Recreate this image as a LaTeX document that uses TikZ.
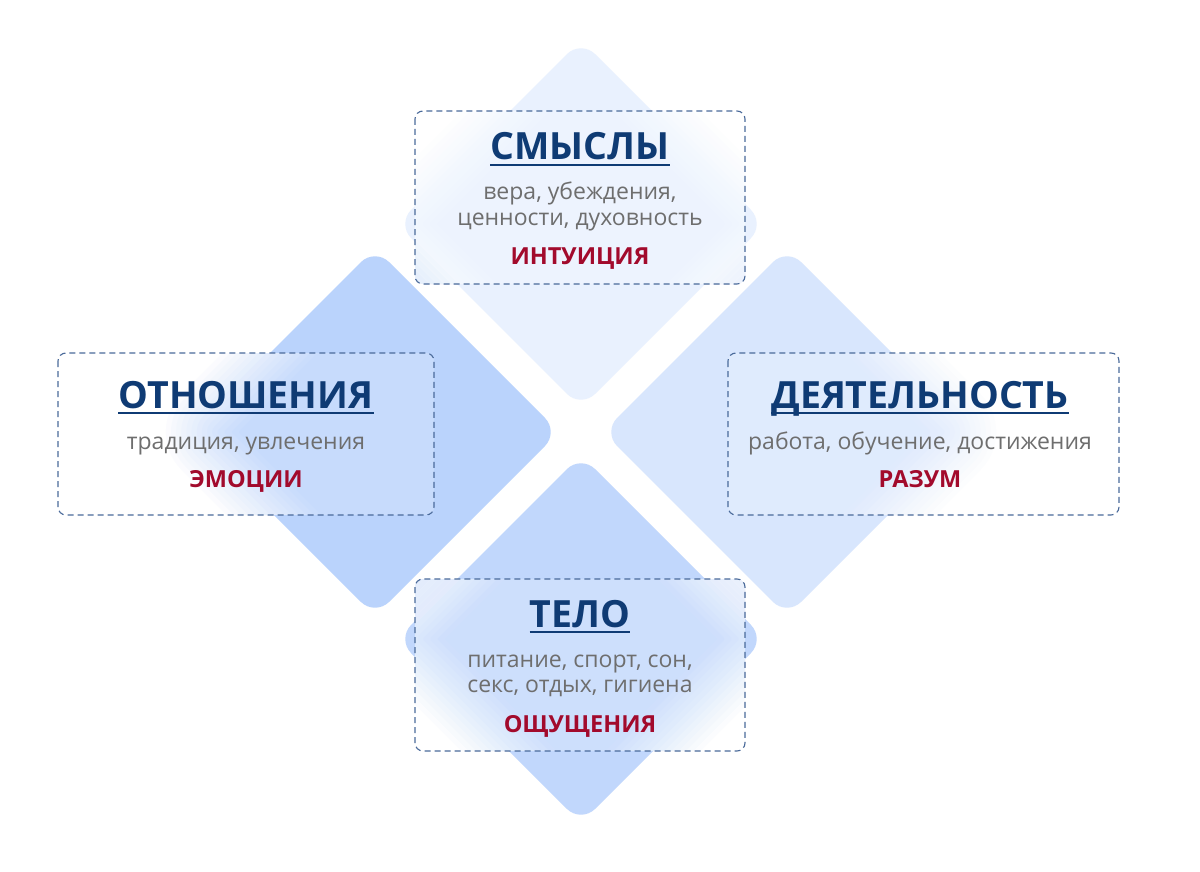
\documentclass[tikz,border=0pt]{standalone}
\usepackage{fontspec}
\setmainfont{Open Sans}
\definecolor{titleblue}{HTML}{0F3B74}
\definecolor{subgray}{HTML}{6E6E6E}
\definecolor{lblred}{HTML}{A20A2C}
\definecolor{dashc}{HTML}{4A6A9A}
\definecolor{dtop}{HTML}{E9F1FE}
\definecolor{dleft}{HTML}{BAD3FC}
\definecolor{dright}{HTML}{D8E6FD}
\definecolor{dbot}{HTML}{C1D7FC}
% diamond path: centre x, centre y, half diagonal
\newcommand\dpath[3]{({#1+(#3)/2},{#2-(#3)/2}) -- ({#1+(#3)},#2) -- (#1,{#2+(#3)}) -- ({#1-(#3)},#2) -- (#1,{#2-(#3)}) -- cycle}
\newcommand\blurd[4]{% cx cy halfdiag colour
  \foreach \k in {1,...,14}{%
    \pgfmathsetmacro\dd{(36-(\k-0.5)*72/14)*1.4142}%
    \pgfmathsetmacro\op{1/(15-\k)}%
    \pgfmathsetmacro\rr{max(2,20+\dd/1.4142)}%
    \pgfmathsetmacro\hh{#3+\dd}%
    \fill[#4, opacity=\op, rounded corners=\rr] \dpath{#1}{#2}{\hh};
  }}
\newcommand\frost[4]{% x1 y1 x2 y2
  \begin{scope}
    \clip[rounded corners=8] (#1,#2) rectangle (#3,#4);
    \fill[white] (#1,#2) rectangle (#3,#4);
    \blurd{581}{224}{184}{dtop}
    \blurd{375}{432}{184}{dleft}
    \blurd{787}{432}{184}{dright}
    \blurd{581}{639}{184}{dbot}
    \fill[white, opacity=0.2] (#1,#2) rectangle (#3,#4);
  \end{scope}}
\tikzset{
  ttl/.style={font=\fontsize{37.5}{37.5}\selectfont\bfseries, text=titleblue, inner sep=0, anchor=base},
  subtxt/.style={font=\fontsize{23}{25}\selectfont, text=subgray, inner sep=0, anchor=base},
  lbl/.style={font=\fontsize{23.5}{23.5}\selectfont\bfseries, text=lblred, inner sep=0, anchor=base},
  frame/.style={draw=dashc, line width=1.1, dash pattern=on 6 off 4, rounded corners=8},
  uline/.style={titleblue, line width=2}
}
\begin{document}
\begin{tikzpicture}[x=1pt,y=-1pt]
\useasboundingbox (0,0) rectangle (1200,872);
\fill[white] (0,0) rectangle (1200,872);
% diamonds
\fill[dtop, rounded corners=20] \dpath{581}{224}{184};
\fill[dleft, rounded corners=20] \dpath{375}{432}{184};
\fill[dright, rounded corners=20] \dpath{787}{432}{184};
\fill[dbot, rounded corners=20] \dpath{581}{639}{184};
% frosted boxes
\frost{415}{111}{745}{284}
\frost{58}{353}{434}{515}
\frost{728}{353}{1119}{515}
\frost{415}{579}{745}{751}
\draw[frame] (415,111) rectangle (745,284);
\draw[frame] (58,353) rectangle (434,515);
\draw[frame] (728,353) rectangle (1119,515);
\draw[frame] (415,579) rectangle (745,751);
% top
\node[ttl] (t1) at (580,160) {СМЫСЛЫ};
\draw[uline] ([yshift=-5pt]t1.base west) -- ([yshift=-5pt]t1.base east);
\node[subtxt] (s1a) at (580,200) {вера, убеждения,};
\node[subtxt] (s1b) at (580,225) {ценности, духовность};
\node[lbl] (l1) at (580,264) {ИНТУИЦИЯ};
% left
\node[ttl] (t2) at (246,408) {ОТНОШЕНИЯ};
\draw[uline] ([yshift=-5pt]t2.base west) -- ([yshift=-5pt]t2.base east);
\node[subtxt] (s2) at (246,449) {традиция, увлечения};
\node[lbl] (l2) at (246,487) {ЭМОЦИИ};
% right
\node[ttl] (t3) at (920,408) {ДЕЯТЕЛЬНОСТЬ};
\draw[uline] ([yshift=-5pt]t3.base west) -- ([yshift=-5pt]t3.base east);
\node[subtxt] (s3) at (920,449) {работа, обучение, достижения};
\node[lbl] (l3) at (920,487) {РАЗУМ};
% bottom
\node[ttl] (t4) at (580,627) {ТЕЛО};
\draw[uline] ([yshift=-5pt]t4.base west) -- ([yshift=-5pt]t4.base east);
\node[subtxt] (s4a) at (580,667) {питание, спорт, сон,};
\node[subtxt] (s4b) at (580,692) {секс, отдых, гигиена};
\node[lbl] (l4) at (580,732) {ОЩУЩЕНИЯ};
\end{tikzpicture}
\end{document}
